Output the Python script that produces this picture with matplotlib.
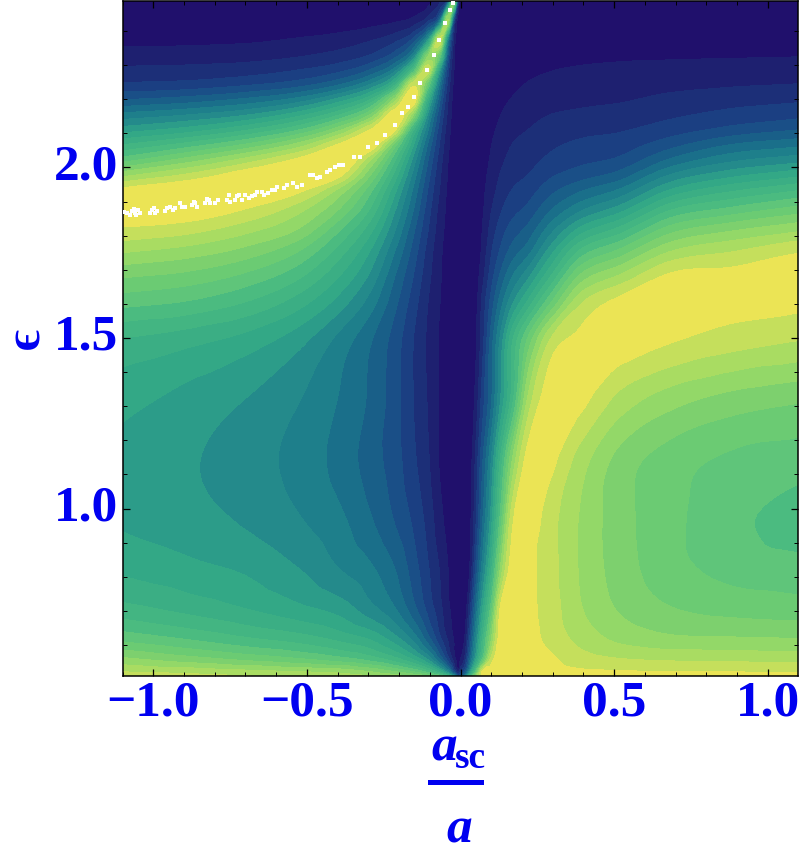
import matplotlib
matplotlib.use("Agg")
import matplotlib.pyplot as plt
import matplotlib.tri as mtri
from matplotlib.patches import Rectangle
from matplotlib.transforms import ScaledTranslation
import numpy as np

SERIF = ["Liberation Serif", "DejaVu Serif"]
BLUE = "#0000f0"

# grid columns (a_sc/a) and rows (epsilon, top to bottom)
a_cols = [-1.1, -.88, -.685, -.522, -.392, -.294, -.213, -.154, -.106, -.067, -.041, -.021, -.008, 0,
          .015, .031, .05, .07, .099, .128, .167, .22, .291, .389, .519, .681, .876, 1.104]
eps_rows = [2.491, 2.433, 2.374, 2.324, 2.286, 2.245, 2.198, 2.154, 2.110, 2.066, 2.022, 1.978, 1.934, 1.875,
            1.817, 1.758, 1.685, 1.611, 1.494, 1.318, 1.142, .966, .820, .702, .614, .556, .521, .509]

# field in band units: band k covers k <= z < k+1
z_rows = [
    [0, 0, 0, 0, 0, 0, .1, .2, .5, 1.5, 4, 16, 3, 0, 0, 0, 0, 0, 0, 0, 0, 0, 0, 0, 0, 0, 0, 0],
    [.2, .2, .25, .3, .4, .55, .8, 1.2, 2.5, 6, 18, 3.5, .5, 0, 0, 0, 0, 0, 0, 0, 0, .05, .1, .15, .2, .25, .28, .3],
    [.7, .75, .85, 1.1, 1.4, 1.9, 2.7, 4.3, 9, 19.5, 7, 1.5, .2, 0, 0, 0, 0, 0, 0, 0, .05, .15, .3, .4, .5, .6, .65, .7],
    [1.5, 1.55, 1.7, 2, 2.5, 3.2, 4.8, 8, 17, 14, 4.5, 1.1, .15, 0, 0, 0, 0, 0, 0, .1, .2, .4, .65, .8, .88, .92, .95, 1],
    [2.2, 2.3, 2.5, 3, 3.7, 5, 7.5, 13, 19.5, 9, 3.3, .9, .1, 0, 0, 0, 0, 0, .1, .2, .4, .7, .95, 1.1, 1.2, 1.3, 1.4, 1.5],
    [3.1, 3.3, 3.8, 4.5, 5.8, 7.8, 11.5, 19.5, 15, 6.5, 2.6, .7, .1, 0, 0, 0, 0, .05, .2, .4, .7, 1.05, 1.3, 1.45, 1.55, 1.7, 1.85, 2],
    [5, 5.5, 6.3, 7.5, 9.5, 12, 17.5, 21, 11, 5, 2, .55, .08, 0, 0, 0, 0, .1, .35, .7, 1.05, 1.35, 1.6, 1.75, 1.9, 2.25, 2.6, 2.85],
    [7.3, 8, 9, 10.7, 13, 16, 20.8, 17, 8.5, 4, 1.7, .45, .05, 0, 0, 0, 0, .2, .55, .95, 1.4, 1.7, 2, 2.2, 2.4, 2.8, 3.3, 3.7],
    [9.5, 10.5, 12, 14, 16.8, 20, 20, 12, 7, 3.3, 1.4, .4, .04, 0, 0, 0, .05, .3, .75, 1.2, 1.7, 2, 2.4, 2.7, 2.9, 3.5, 4.3, 5],
    [12, 13.5, 15.3, 17.5, 20.2, 21, 15.3, 10, 5.8, 2.8, 1.2, .35, .03, 0, 0, 0, .08, .4, .95, 1.45, 2, 2.3, 2.8, 3.2, 3.5, 4.6, 6, 6.75],
    [14.5, 16.5, 18.5, 20.3, 21.3, 18, 13, 8.6, 5, 2.4, 1, .3, .03, 0, 0, 0, .1, .5, 1.1, 1.7, 2.3, 2.65, 3.2, 3.7, 4.2, 6.1, 7.7, 8.6],
    [17.6, 19.2, 20.7, 21.2, 20.2, 16, 11.5, 7.6, 4.4, 2.1, .9, .3, .02, 0, 0, 0, .15, .6, 1.3, 2, 2.6, 3, 3.8, 4.5, 5.4, 8, 9.6, 10.7],
    [20.2, 21, 21, 20.2, 17.6, 14.3, 10.2, 6.8, 3.9, 1.9, .8, .25, .02, 0, 0, 0, .2, .7, 1.5, 2.3, 3, 3.5, 4.6, 5.8, 7.1, 10, 11.7, 12.9],
    [20.8, 20.7, 19.8, 18.2, 15.8, 12.8, 9, 6, 3.4, 1.6, .7, .2, .02, 0, 0, 0, .25, .8, 1.9, 2.8, 3.6, 4.3, 5.9, 7.8, 9.6, 12.9, 14.3, 15.5],
    [19.8, 19.3, 18.2, 16.8, 14, 11.3, 8, 5.2, 3, 1.4, .6, .15, .01, 0, 0, 0, .3, .95, 2.3, 3.4, 4.4, 5.3, 7.5, 10.3, 12.4, 15.5, 16.8, 17.8],
    [18.2, 17.6, 16.6, 15, 12.5, 10, 7, 4.6, 2.6, 1.2, .5, .1, 0, 0, 0, .02, .4, 1.1, 2.8, 4, 5.3, 6.5, 9.3, 13, 15.1, 17.8, 18.8, 19.8],
    [16.2, 15.7, 14.7, 13.2, 11, 8.8, 6, 4, 2.3, 1.1, .5, .1, 0, 0, 0, .03, .5, 1.5, 3.4, 5, 6.8, 8.6, 11.7, 16, 18, 20.1, 20.3, 20.5],
    [14.5, 14, 13, 11.5, 9.6, 7.6, 5.3, 3.5, 2, 1, .4, .1, 0, 0, 0, .05, .65, 2.1, 4.2, 6.2, 8.5, 11, 14.5, 18.6, 20.2, 20.6, 20.4, 20.3],
    [11.9, 11.3, 10.5, 9.3, 7.6, 6.1, 4.5, 3, 1.8, .85, .3, 0, 0, 0, .02, .1, .8, 2.4, 5.3, 8, 11.7, 15.2, 19, 20.3, 20.6, 20.1, 19.5, 19],
    [10.35, 9.6, 8.9, 8, 6.9, 5.8, 4.4, 3, 1.9, .85, .3, 0, 0, 0, .02, .3, 1.3, 3.3, 5.7, 8.7, 12.4, 18.2, 20.6, 20.3, 18.6, 17.4, 16.6, 16.1],
    [9.7, 9.1, 8.4, 7.6, 6.6, 5.5, 4.4, 3.2, 2.1, .85, .3, 0, 0, 0, .03, .5, 2.2, 4.6, 7.8, 11.8, 16.8, 20.5, 20.3, 18.5, 16.6, 15.5, 14.8, 14.5],
    [9.85, 9.4, 8.8, 8.05, 7.2, 6.1, 4.9, 3.8, 2.6, 1.3, .6, .2, 0, 0, .1, .7, 2.8, 5.6, 9.3, 14, 19.6, 20.5, 19.4, 17.9, 16.4, 15.3, 14.3, 13.5],
    [10.8, 10.3, 9.8, 9, 8, 7.2, 6, 4.5, 3.1, 1.9, 1, .4, .1, 0, .2, 1.1, 4.2, 7.3, 11.5, 16.8, 20.6, 20.3, 19.4, 17.9, 16.5, 15.4, 14.7, 14.4],
    [12.4, 11.7, 11, 10.3, 9.6, 8.4, 7.1, 5.4, 3.7, 2.3, 1.2, .6, .15, 0, .4, 2.7, 6.2, 9.7, 14.4, 20, 20.7, 20.3, 19.5, 18.1, 16.9, 16.1, 15.7, 15.5],
    [14.8, 14, 13.2, 12.6, 11.8, 11, 9.5, 7.8, 5.5, 3.3, 1.9, .9, .3, .2, 1.2, 4.2, 8, 11.8, 16.8, 20.5, 20.7, 20.4, 19.7, 18.7, 17.8, 17.3, 17.2, 17.1],
    [17.3, 16.5, 15.8, 15.2, 14.5, 13.7, 12.5, 11, 9, 6, 3.5, 1.5, .5, 1, 2.4, 5.8, 9.8, 13.9, 19.3, 20.7, 20.8, 20.7, 20.2, 19.5, 19.1, 18.9, 18.8, 18.7],
    [19, 18.7, 18.3, 18, 17.7, 17, 16, 15, 13.5, 11, 8, 4, 1.5, 3, 4.6, 9, 14.5, 20, 20.5, 20.6, 20.7, 20.6, 20.4, 20.2, 20.1, 20, 20, 19.9],
    [19.5, 19.3, 19, 18.8, 18.5, 18, 17.5, 16.8, 16, 14.5, 12, 8, 4, 5, 7, 12, 17, 20.2, 20.5, 20.7, 20.8, 20.7, 20.6, 20.5, 20.4, 20.3, 20.2, 20.2],
]

band_colors = ["#20106c", "#1e2070", "#1c2f78", "#1b3f82", "#1a4f87", "#195f88", "#1a6f8a",
               "#1e7f8b", "#248a8b", "#2c9c89", "#33a886", "#3bae84", "#43b582", "#4bbb80",
               "#5fc57a", "#6bcb73", "#7dd06e", "#93d868", "#a9dc62", "#c5df5c", "#ebe455"]
band_levels = [-500] + list(range(1, 21)) + [500]

# white specks along the ridge (points past the plot range in the original)
speck_a = [-1.094, -1.086, -1.077, -1.069, -1.064, -1.059, -1.055, -1.048, -1.042, -1.010, -1.004, -.999, -.993,
           -.988, -.961, -.956, -.945, -.936, -.928, -.912, -.907, -.896, -.874, -.867, -.863, -.858, -.831,
           -.825, -.820, -.815, -.798, -.788, -.760, -.755, -.750, -.733, -.728, -.722, -.712, -.701, -.690,
           -.679, -.668, -.663, -.647, -.641, -.625, -.614, -.603, -.598, -.576, -.565, -.544, -.533, -.517,
           -.489, -.479, -.468, -.457, -.435, -.424, -.408, -.397, -.381, -.348, -.327, -.300, -.273, -.245,
           -.213, -.191, -.170, -.153, -.132, -.110, -.088, -.069, -.050, -.034, -.023]
speck_eps = [1.870, 1.866, 1.861, 1.873, 1.877, 1.866, 1.861, 1.875, 1.866, 1.866, 1.875, 1.880, 1.866,
             1.871, 1.871, 1.880, 1.883, 1.875, 1.880, 1.895, 1.885, 1.885, 1.890, 1.900, 1.895, 1.885, 1.895,
             1.907, 1.905, 1.895, 1.895, 1.905, 1.905, 1.919, 1.900, 1.905, 1.915, 1.919, 1.905, 1.919, 1.910,
             1.915, 1.919, 1.929, 1.929, 1.919, 1.924, 1.934, 1.934, 1.944, 1.939, 1.949, 1.954, 1.944, 1.949,
             1.978, 1.978, 1.968, 1.973, 1.988, 1.993, 2.002, 2.007, 2.007, 2.032, 2.032, 2.061, 2.071, 2.095,
             2.125, 2.159, 2.178, 2.208, 2.247, 2.286, 2.330, 2.374, 2.423, 2.462, 2.481]

x_ticks = [-1.0, -0.5, 0.0, 0.5, 1.0]
x_tick_labels = ["\u22121.0", "\u22120.5", "0.0", "0.5", "1.0"]
y_ticks = [1.0, 1.5, 2.0]
y_tick_labels = ["1.0", "1.5", "2.0"]

W, H = 800, 846
fig = plt.figure(figsize=(W / 100, H / 100), dpi=100)
# axes box in pixels: x 122.5-798, y 1-676 from the top
ax = fig.add_axes([122.5 / W, 1 - 676 / H, (798 - 122.5) / W, 675 / H])

# triangles with one diagonal direction, so the refiner does not zig-zag
grid_a, grid_eps = np.meshgrid(a_cols, eps_rows)
nr, nc = grid_a.shape
tris = []
for i in range(nr - 1):
    for j in range(nc - 1):
        ul, ur, ll, lr = i * nc + j, i * nc + j + 1, (i + 1) * nc + j, (i + 1) * nc + j + 1
        tris += [[ul, ll, ur], [ll, lr, ur]]
tri = mtri.Triangulation(grid_a.ravel(), grid_eps.ravel(), tris)
z_flat = np.array(z_rows, dtype=float).ravel()
interp = mtri.CubicTriInterpolator(tri, z_flat, kind="geom")
fine_tri, fine_z = mtri.UniformTriRefiner(tri).refine_field(z_flat, triinterpolator=interp, subdiv=3)
cs = ax.tricontourf(fine_tri, fine_z, levels=band_levels, colors=band_colors)
cs.set_edgecolor("face")
cs.set_linewidth(0.3)
ax.scatter(speck_a, speck_eps, s=6, marker="s", color="white", linewidths=0, zorder=3)

ax.set_xlim(-1.1, 1.098)
ax.set_ylim(0.509, 2.488)
ax.set_xticks(x_ticks, x_tick_labels)
ax.set_yticks(y_ticks, y_tick_labels)
ax.set_xticks(np.arange(-11, 11) / 10, minor=True)
ax.set_yticks(np.arange(6, 25) / 10, minor=True)
ax.tick_params(which="major", direction="in", length=5, width=0.9, top=True, right=True)
ax.tick_params(axis="x", which="major", pad=3)
ax.tick_params(axis="y", which="major", pad=3)
ax.tick_params(which="minor", direction="in", length=3, width=0.7, top=True, right=True)
up = ScaledTranslation(0, 4 / 72, fig.dpi_scale_trans)
for lab in ax.get_xticklabels() + ax.get_yticklabels():
    lab.set_family(SERIF)
    lab.set_weight("bold")
    lab.set_size(37)
    lab.set_color(BLUE)
for lab in ax.get_yticklabels():
    lab.set_transform(lab.get_transform() + up)
for side in ax.spines.values():
    side.set_linewidth(1.1)

# axis titles are placed in figure pixels, y counted from the top
def px_text(x, y, s, **kw):
    fig.text(x / W, 1 - y / H, s, family=SERIF, weight="bold", color=BLUE, **kw)

px_text(27, 338, "\u03f5", size=36, rotation=90, ha="center", va="center")
px_text(431, 760, "a", size=37, style="italic", ha="left", va="baseline")
px_text(455, 768, "sc", size=27, ha="left", va="baseline")
px_text(446, 842, "a", size=37, style="italic", ha="left", va="baseline")
fig.add_artist(Rectangle((428 / W, 1 - 785 / H), 56 / W, 5 / H, transform=fig.transFigure,
                         facecolor=BLUE, edgecolor="none"))

fig.savefig("out.png", dpi=100)
